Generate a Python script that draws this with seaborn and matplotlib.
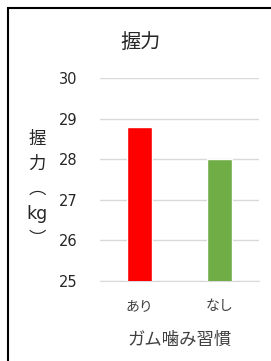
import pandas as pd
import seaborn as sns
import matplotlib.pyplot as plt
from matplotlib.patches import Rectangle

# data
habits = ['あり', 'なし']
grip = [28.8, 28.0]
colors = ['#ff0000', '#70ad47']

df = pd.DataFrame({'habit': habits, 'grip': grip})

sns.set_style('white')
plt.rcParams['font.family'] = ['DejaVu Sans', 'Noto Sans CJK JP']

fig = plt.figure(figsize=(2.71, 3.61), dpi=100)
ax = fig.add_axes([100 / 271, 1 - 281 / 361, 159 / 271, 203 / 361])

sns.barplot(data=df, x='habit', y='grip', hue='habit', palette=colors,
            width=0.32, saturation=1, legend=False, ax=ax, zorder=3)

ax.set_ylim(25, 30)
ax.set_yticks([25, 26, 27, 28, 29, 30])
ax.yaxis.grid(True, color='#d9d9d9', linewidth=1, zorder=0)
for s in ['top', 'right', 'left']:
    ax.spines[s].set_visible(False)
ax.spines['bottom'].set_color('#d9d9d9')
ax.tick_params(axis='y', length=0, pad=16, labelsize=10.5, labelcolor='#262626')
ax.tick_params(axis='x', length=0, pad=13, labelsize=10, labelcolor='#404040')
ax.set_xlabel('ガム噛み習慣', fontsize=12.5, color='#404040', labelpad=13)
ax.set_ylabel('')

fig.text(141 / 271, 1 - 42 / 361, '握力', ha='center', va='center',
         fontsize=14.5, color='#262626')
fig.text(37 / 271, 1 - 189 / 361, '握\n力\n︵\nkg\n︶', ha='center', va='center',
         fontsize=12.5, color='#262626', linespacing=1.5)

# outer frame
fig.patches.append(Rectangle((8 / 271, -0.1), 1.2, 1 - 8 / 361 + 0.1,
                             transform=fig.transFigure, fill=False,
                             edgecolor='#000000', linewidth=1.5))

fig.savefig('out.png', dpi=100)
